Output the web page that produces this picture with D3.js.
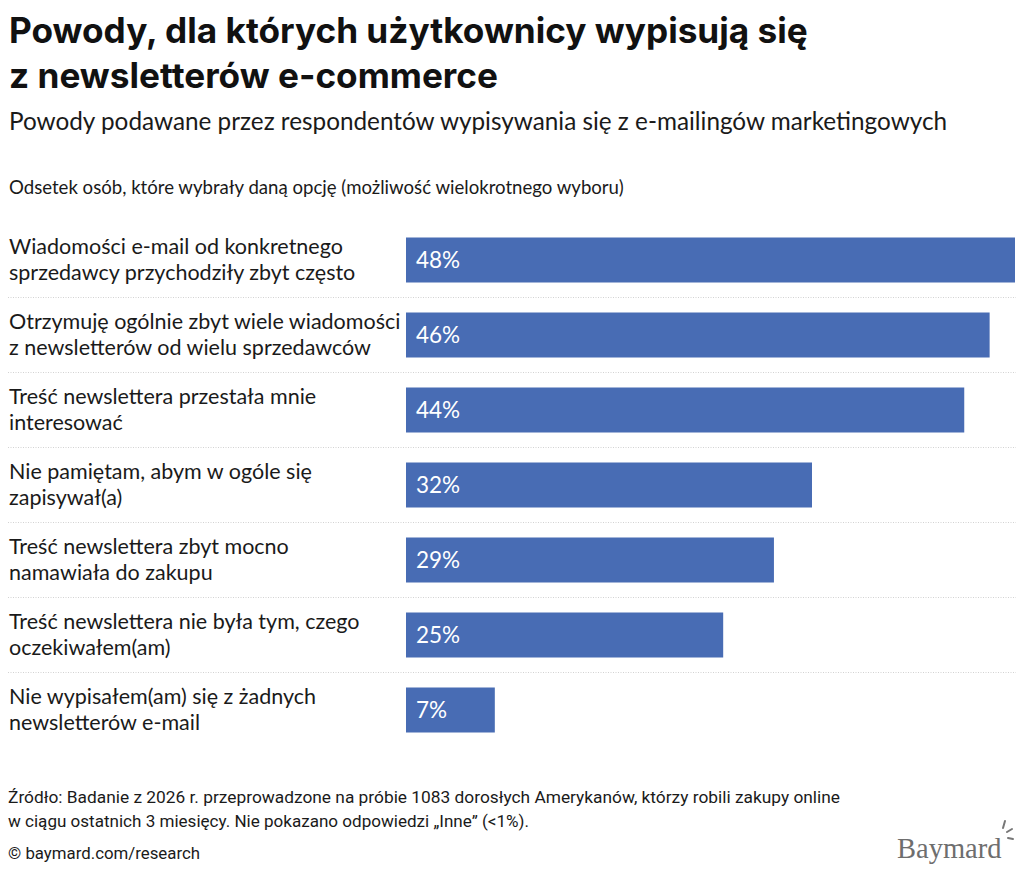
<!DOCTYPE html>
<html>
<head>
<meta charset="utf-8">
<script src="https://cdn.jsdelivr.net/npm/d3@7/dist/d3.min.js"></script>
<style>
  body { margin: 0; background: #fff; }
  svg { display: block; }
</style>
</head>
<body>
<svg id="chart" width="1024" height="874"></svg>
<script>
const titleLines = ["Powody, dla których użytkownicy wypisują się", "z newsletterów e-commerce"];
const subtitle = "Powody podawane przez respondentów wypisywania się z e-mailingów marketingowych";
const axisNote = "Odsetek osób, które wybrały daną opcję (możliwość wielokrotnego wyboru)";
const categories = [
  ["Wiadomości e-mail od konkretnego", "sprzedawcy przychodziły zbyt często"],
  ["Otrzymuję ogólnie zbyt wiele wiadomości", "z newsletterów od wielu sprzedawców"],
  ["Treść newslettera przestała mnie", "interesować"],
  ["Nie pamiętam, abym w ogóle się", "zapisywał(a)"],
  ["Treść newslettera zbyt mocno", "namawiała do zakupu"],
  ["Treść newslettera nie była tym, czego", "oczekiwałem(am)"],
  ["Nie wypisałem(am) się z żadnych", "newsletterów e-mail"]
];
const values = [48, 46, 44, 32, 29, 25, 7];
const footerLines = [
  "Źródło: Badanie z 2026 r. przeprowadzone na próbie 1083 dorosłych Amerykanów, którzy robili zakupy online",
  "w ciągu ostatnich 3 miesięcy. Nie pokazano odpowiedzi „Inne” (<1%).",
  "© baymard.com/research"
];
const logoText = "Baymard";

const svg = d3.select("#chart");
const FONT = "Lato, 'Noto Sans', sans-serif";
const BAR = "#486cb4";

// Title
svg.selectAll("text.title").data(titleLines).join("text")
  .attr("class", "title")
  .attr("x", 9).attr("y", (d, i) => 43 + i * 45)
  .attr("font-family", "Inter, Lato, sans-serif").attr("font-weight", 700)
  .attr("font-size", 35.2).attr("fill", "#111")
  .text(d => d);

svg.append("text").attr("x", 9).attr("y", 130)
  .attr("font-family", FONT).attr("font-size", 24.3).attr("fill", "#1a1a1a")
  .text(subtitle);

svg.append("text").attr("x", 9).attr("y", 194)
  .attr("font-family", FONT).attr("font-size", 18.6).attr("fill", "#1a1a1a")
  .text(axisNote);

const keys = categories.map(d => d.join(" "));
const x = d3.scaleLinear().domain([0, 48]).range([406, 1015]);
const y = d3.scaleBand().domain(keys).range([222.5, 747.5]).paddingInner(0.4).paddingOuter(0.2);
const data = categories.map((c, i) => ({ key: keys[i], lines: c, value: values[i] }));

// separators
svg.selectAll("line.sep").data(data.slice(0, -1)).join("line")
  .attr("class", "sep")
  .attr("x1", 8).attr("x2", 1016)
  .attr("y1", d => y(d.key) + y.bandwidth() + y.step() * 0.2)
  .attr("y2", d => y(d.key) + y.bandwidth() + y.step() * 0.2)
  .attr("stroke", "#d2d2d2").attr("stroke-width", 1).attr("stroke-dasharray", "1,1.5");

// bars
svg.selectAll("rect.bar").data(data).join("rect")
  .attr("class", "bar")
  .attr("x", x(0)).attr("y", d => y(d.key))
  .attr("width", d => x(d.value) - x(0)).attr("height", y.bandwidth())
  .attr("fill", BAR);

// values
svg.selectAll("text.val").data(data).join("text")
  .attr("class", "val")
  .attr("x", x(0) + 10).attr("y", d => y(d.key) + y.bandwidth() / 2 + 8)
  .attr("font-family", FONT).attr("font-size", 22.5).attr("fill", "#fff")
  .text(d => d.value + "%");

// category labels
const lab = svg.selectAll("text.cat").data(data).join("text")
  .attr("class", "cat")
  .attr("font-family", FONT).attr("font-size", 21.5).attr("fill", "#1a1a1a");
lab.selectAll("tspan").data(d => d.lines.map((l, i) => ({ l, i, c: y(d.key) + y.bandwidth() / 2 })))
  .join("tspan")
  .attr("x", 9).attr("y", d => d.c - 6 + d.i * 26)
  .text(d => d.l);

// footer
const footerW = [832, 521, 192];
svg.selectAll("text.foot").data(footerLines).join("text")
  .attr("class", "foot")
  .attr("x", 8).attr("y", (d, i) => [803, 827, 859][i])
  .attr("font-family", "Roboto, sans-serif").attr("font-size", 16).attr("fill", "#1a1a1a")
  .attr("textLength", (d, i) => footerW[i]).attr("lengthAdjust", "spacingAndGlyphs")
  .text(d => d);

// logo
svg.append("text").attr("x", 897).attr("y", 858)
  .attr("font-family", "'Liberation Serif', 'DejaVu Serif', serif").attr("font-size", 28.5)
  .attr("fill", "#6e6e6e").text(logoText);
const ticks = [[1003, 828, 1005, 821], [1007, 832, 1012, 829], [1008, 838, 1013, 839]];
svg.selectAll("line.tick").data(ticks).join("line")
  .attr("x1", d => d[0]).attr("y1", d => d[1]).attr("x2", d => d[2]).attr("y2", d => d[3])
  .attr("stroke", "#777").attr("stroke-width", 2).attr("stroke-linecap", "round");
</script>
</body>
</html>
